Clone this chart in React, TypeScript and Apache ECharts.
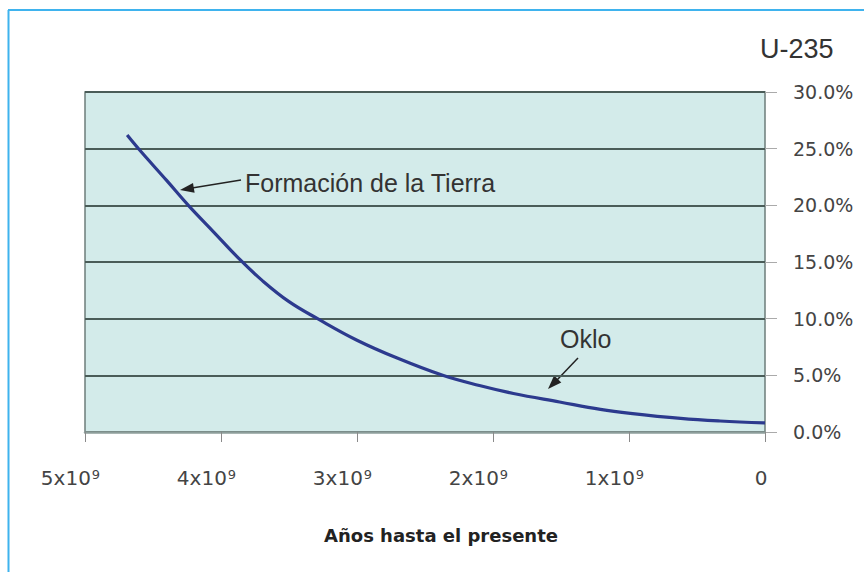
import React, { useEffect, useRef } from "react";
import * as echarts from "echarts";

// Years before present, in units of 10^9 years
const years = [4.69, 4.6, 4.4, 4.24, 4.05, 3.86, 3.7, 3.5, 3.29, 3.0, 2.7, 2.37, 2.1, 1.85, 1.51, 1.21, 0.99, 0.62, 0.33, 0];
// U-235 abundance (%)
const abundance = [26.2, 24.9, 22.2, 20.0, 17.6, 15.2, 13.4, 11.5, 10.0, 8.1, 6.5, 5.0, 4.1, 3.4, 2.65, 2.0, 1.65, 1.2, 0.97, 0.8];

const xTicks = [0, 1, 2, 3, 4, 5];
const yTicks = [0, 5, 10, 15, 20, 25, 30];

const seriesName = "U-235";
const xAxisTitle = "Años hasta el presente";
const noteEarth = "Formación de la Tierra";
const noteOklo = "Oklo";

export default function App() {
  const ref = useRef<HTMLDivElement>(null);
  useEffect(() => {
    document.body.style.margin = "0";
    const chart = echarts.init(ref.current!, undefined, { renderer: "svg" });
    const tickFont = "'DejaVu Sans', sans-serif";
    const arial = "'Liberation Sans', Arial, sans-serif";
    chart.setOption({
      animation: false,
      backgroundColor: "#ffffff",
      grid: {
        left: 85,
        right: 99,
        top: 92,
        bottom: 140,
        show: true,
        backgroundColor: "#d3ebea",
        borderColor: "#6d7e7b",
        borderWidth: 1.5,
      },
      xAxis: {
        type: "value",
        min: xTicks[0],
        max: xTicks[xTicks.length - 1],
        interval: 1,
        inverse: true,
        axisLine: { show: true, lineStyle: { color: "#8d9e9b", width: 2.5 } },
        axisTick: { show: true, length: 10, lineStyle: { color: "#8a8a8a", width: 1 } },
        splitLine: { show: false },
        axisLabel: {
          margin: 36,
          fontFamily: tickFont,
          fontSize: 20,
          color: "#444",
          formatter: (v: number) => (v === 0 ? "{z|0}" : `{n|${v}x10}{s|9}{p|}`),
          rich: {
            z: { fontFamily: tickFont, fontSize: 20, color: "#444", padding: [0, 8, 0, 0] },
            n: { fontFamily: tickFont, fontSize: 20, color: "#444", padding: [0, 0, 0, 0] },
            s: { fontFamily: tickFont, fontSize: 13, color: "#444", verticalAlign: "top", padding: [0, 0, 0, 1] },
            p: { width: 29, height: 1 },
          },
        },
      },
      yAxis: {
        type: "value",
        position: "right",
        min: yTicks[0],
        max: yTicks[yTicks.length - 1],
        interval: 5,
        axisLine: { show: false },
        axisTick: { show: true, length: 12, lineStyle: { color: "#aaaaaa", width: 1 } },
        splitLine: { show: true, lineStyle: { color: "#4a5c58", width: 2 } },
        axisLabel: {
          margin: 28,
          fontFamily: tickFont,
          fontSize: 19,
          color: "#444",
          padding: [0, 0, 11, 0],
          formatter: (v: number) => `${v.toFixed(1)}%`,
        },
      },
      series: [
        {
          name: seriesName,
          type: "line",
          data: years.map((y, i) => [y, abundance[i]]),
          smooth: 0.4,
          showSymbol: false,
          lineStyle: { color: "#2c3a8e", width: 3.2 },
        },
      ],
      graphic: [
        { type: "line", shape: { x1: 8.5, y1: 10, x2: 8.5, y2: 572 }, style: { stroke: "#3fb3ee", lineWidth: 2 } },
        { type: "line", shape: { x1: 8, y1: 10, x2: 864, y2: 10 }, style: { stroke: "#3fb3ee", lineWidth: 2 } },
        {
          type: "text",
          x: 760,
          y: 49,
          style: { text: seriesName, font: `27px ${arial}`, fill: "#333", textAlign: "left", textVerticalAlign: "middle" },
        },
        {
          type: "text",
          x: 441,
          y: 535,
          style: { text: xAxisTitle, font: `bold 18px ${tickFont}`, fill: "#222", textAlign: "center", textVerticalAlign: "middle" },
        },
        {
          type: "text",
          x: 245,
          y: 183,
          style: { text: noteEarth, font: `25px ${arial}`, fill: "#333", textAlign: "left", textVerticalAlign: "middle" },
        },
        { type: "line", shape: { x1: 241, y1: 180, x2: 192, y2: 188 }, style: { stroke: "#222", lineWidth: 1.5 } },
        { type: "polygon", shape: { points: [[180, 190], [194.6, 192.7], [193, 182.9]] }, style: { fill: "#222" } },
        {
          type: "text",
          x: 560,
          y: 339,
          style: { text: noteOklo, font: `25px ${arial}`, fill: "#333", textAlign: "left", textVerticalAlign: "middle" },
        },
        { type: "line", shape: { x1: 578, y1: 358, x2: 557, y2: 380 }, style: { stroke: "#222", lineWidth: 1.5 } },
        { type: "polygon", shape: { points: [[548, 389], [561.3, 382.4], [554.1, 375.4]] }, style: { fill: "#222" } },
      ],
    });
    return () => chart.dispose();
  }, []);
  return <div ref={ref} style={{ width: 864, height: 572 }} />;
}
